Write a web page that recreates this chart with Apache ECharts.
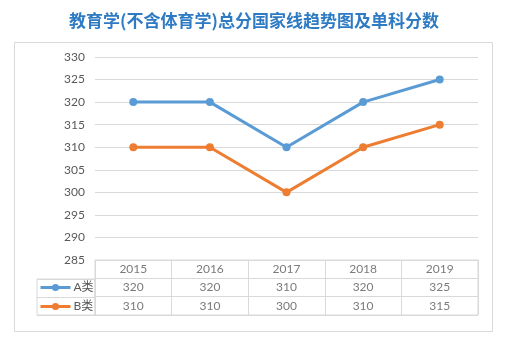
<!DOCTYPE html>
<html>
<head>
<meta charset="utf-8">
<script src="https://cdn.jsdelivr.net/npm/echarts@6/dist/echarts.min.js"></script>
<style>
  html, body { margin: 0; padding: 0; background: #ffffff; }
  #chart { width: 508px; height: 343px; }
</style>
</head>
<body>
<div id="chart"></div>
<script>
// Years and national cut-off scores
const years = ['2015', '2016', '2017', '2018', '2019'];
const scoresA = [320, 320, 310, 320, 325];
const scoresB = [310, 310, 300, 310, 315];
const seriesNames = ['A类', 'B类'];
const yTicks = { min: 285, max: 330, step: 5 };

const blue = '#5B9BD5';
const orange = '#ED7D31';
const gridLine = '#d9d9d9';
const textColor = '#595959';
const cjkFont = '"Noto Sans CJK SC", sans-serif';
const numFont = 'Lato, "Noto Sans CJK SC", sans-serif';

// Data table rows: header row (years), then one row per series
const rowKeys = ['hdr', 'A', 'B'];
const tableCells = [];
years.forEach((y, i) => {
  tableCells.push([y, 'hdr', y]);
  tableCells.push([y, 'A', String(scoresA[i])]);
  tableCells.push([y, 'B', String(scoresB[i])]);
});

const chart = echarts.init(document.getElementById('chart'));
chart.setOption({
  backgroundColor: '#ffffff',
  animation: false,
  title: {
    text: '教育学(不含体育学)总分国家线趋势图及单科分数',
    left: 'center',
    top: 7,
    textStyle: { color: '#2E7BC4', fontSize: 17, fontWeight: 'bold', fontFamily: cjkFont }
  },
  graphic: [{
    type: 'rect',
    shape: { x: 14.5, y: 42.5, width: 478, height: 289 },
    style: { fill: 'none', stroke: gridLine, lineWidth: 1 },
    silent: true,
    z: -1
  }],
  legend: {
    data: seriesNames,
    orient: 'vertical',
    left: 39,
    top: 281,
    padding: 0,
    itemWidth: 30,
    itemHeight: 9,
    itemGap: 6,
    lineStyle: { width: 3 },
    textStyle: { color: textColor, fontSize: 12, lineHeight: 13, fontFamily: numFont, padding: [0, 0, 0, -2] }
  },
  grid: [
    { left: 95, right: 30, top: 57, bottom: 83 },
    { left: 95, right: 30, top: 260, height: 55, show: true, borderColor: gridLine, borderWidth: 1 },
    { left: 37, width: 58, top: 279, height: 36, show: true, borderColor: gridLine, borderWidth: 1 }
  ],
  xAxis: [
    { gridIndex: 0, type: 'category', data: years, boundaryGap: true,
      axisLine: { show: false }, axisTick: { show: false }, axisLabel: { show: false } },
    { gridIndex: 1, type: 'category', data: years, boundaryGap: true,
      axisLine: { show: false }, axisTick: { show: false }, axisLabel: { show: false },
      splitLine: { show: true, lineStyle: { color: gridLine } } },
    { gridIndex: 2, type: 'value', min: 0, max: 1, show: false }
  ],
  yAxis: [
    { gridIndex: 0, type: 'value', min: yTicks.min, max: yTicks.max, interval: yTicks.step,
      axisLine: { show: false }, axisTick: { show: false },
      axisLabel: { color: textColor, fontSize: 12, fontFamily: numFont, margin: 10 },
      splitLine: { lineStyle: { color: gridLine } } },
    { gridIndex: 1, type: 'category', data: rowKeys, inverse: true, boundaryGap: true,
      axisLine: { show: false }, axisTick: { show: false }, axisLabel: { show: false },
      splitLine: { show: true, lineStyle: { color: gridLine } } },
    { gridIndex: 2, type: 'category', data: ['A', 'B'], inverse: true, boundaryGap: true,
      axisLine: { show: false }, axisTick: { show: false }, axisLabel: { show: false },
      splitLine: { show: true, lineStyle: { color: gridLine } } }
  ],
  series: [
    { name: seriesNames[0], type: 'line', xAxisIndex: 0, yAxisIndex: 0, data: scoresA,
      symbol: 'circle', symbolSize: 8,
      lineStyle: { color: blue, width: 3 }, itemStyle: { color: blue } },
    { name: seriesNames[1], type: 'line', xAxisIndex: 0, yAxisIndex: 0, data: scoresB,
      symbol: 'circle', symbolSize: 8,
      lineStyle: { color: orange, width: 3 }, itemStyle: { color: orange } },
    { name: 'table', type: 'scatter', xAxisIndex: 1, yAxisIndex: 1, data: tableCells,
      symbolSize: 0, silent: true,
      label: { show: true, position: 'inside', color: textColor, fontSize: 12, fontFamily: numFont,
        formatter: p => p.value[2] } }
  ]
});
</script>
</body>
</html>
